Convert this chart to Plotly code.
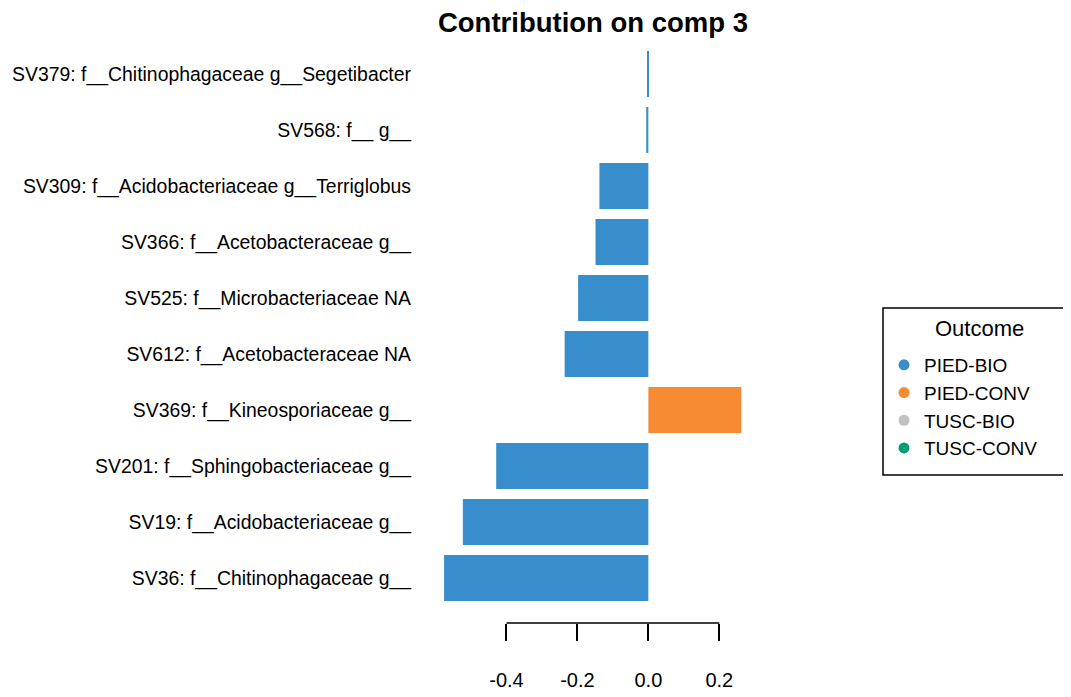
import plotly.graph_objects as go

# Data (bottom to top)
features = [
    "SV36: f__Chitinophagaceae g__",
    "SV19: f__Acidobacteriaceae g__",
    "SV201: f__Sphingobacteriaceae g__",
    "SV369: f__Kineosporiaceae g__",
    "SV612: f__Acetobacteraceae NA",
    "SV525: f__Microbacteriaceae NA",
    "SV366: f__Acetobacteraceae g__",
    "SV309: f__Acidobacteriaceae g__Terriglobus",
    "SV568: f__ g__",
    "SV379: f__Chitinophagaceae g__Segetibacter",
]
contrib = [-0.576, -0.523, -0.429, 0.262, -0.236, -0.198, -0.149, -0.138, -0.006, -0.003]
outcome = ["PIED-BIO", "PIED-BIO", "PIED-BIO", "PIED-CONV", "PIED-BIO",
           "PIED-BIO", "PIED-BIO", "PIED-BIO", "PIED-BIO", "PIED-BIO"]
groups = ["PIED-BIO", "PIED-CONV", "TUSC-BIO", "TUSC-CONV"]
group_colors = ["#388ECC", "#F68B33", "#C2C2C2", "#009E73"]
tick_vals = [-0.4, -0.2, 0.0, 0.2]
tick_text = ["-0.4", "-0.2", "0.0", "0.2"]

cmap = dict(zip(groups, group_colors))
ypos = list(range(len(features)))

# page has an 8px body margin -> figure is 8px smaller and offset
W, H = 1063, 689
L, R, T, B = 424, 318, 38, 74
PW, PH = W - L - R, H - T - B


def px(fx):  # figure pixel x -> paper x
    return (fx - L) / PW


def py(fy):  # figure pixel y -> paper y
    return (H - B - fy) / PH


fig = go.Figure()
fig.add_trace(go.Bar(
    x=contrib, y=ypos, orientation="h",
    marker=dict(color=[cmap[o] for o in outcome], line=dict(width=0)),
    width=0.82, showlegend=False, hoverinfo="x+text",
    text=features, textposition="none",
))
for g, c in zip(groups, group_colors):
    fig.add_trace(go.Scatter(
        x=[None], y=[None], mode="markers", name=g,
        marker=dict(color=c, size=11, symbol="circle"),
    ))

font = "Liberation Sans, Arial, Helvetica, sans-serif"
fig.update_layout(
    width=W, height=H,
    margin=dict(l=L, r=R, t=T, b=B, autoexpand=False),
    plot_bgcolor="white", paper_bgcolor="white",
    font=dict(family=font, size=19.4, color="black"),
    title=dict(text="<b>Contribution on comp 3</b>", x=585 / W, xanchor="center",
               yref="container", y=1 - 5 / H, yanchor="top",
               font=dict(size=27.5, family=font)),
    xaxis=dict(range=[-0.61, 0.295], tickvals=tick_vals, ticktext=tick_text,
               ticks="outside", ticklen=17, tickwidth=1.5, tickcolor="black",
               showgrid=False, zeroline=False, showline=False, automargin=False,
               ticklabelstandoff=22, tickfont=dict(size=20)),
    yaxis=dict(range=[-0.804, 9.5], tickvals=ypos, ticktext=features,
               ticks="", showgrid=False, zeroline=False, showline=False, automargin=False,
               ticklabelstandoff=20, tickfont=dict(size=19.4)),
    legend=dict(
        xref="container", yref="container",
        x=876 / W, y=1 - 338 / H, xanchor="left", yanchor="top",
        borderwidth=0, bgcolor="rgba(0,0,0,0)",
        font=dict(size=19), itemsizing="trace", tracegroupgap=0,
    ),
    annotations=[dict(text="Outcome", xref="paper", yref="paper", x=px(971), y=py(320),
                      xanchor="center", yanchor="middle", showarrow=False,
                      font=dict(size=22))],
    shapes=[
        dict(type="line", xref="x", yref="paper", x0=tick_vals[0], x1=tick_vals[-1],
             y0=0, y1=0, line=dict(color="black", width=1.5)),
        dict(type="rect", xref="paper", yref="paper", x0=px(875), x1=px(1062),
             y0=py(467), y1=py(300), line=dict(color="black", width=1.5),
             fillcolor="rgba(0,0,0,0)", layer="below"),
    ],
)

fig.write_html("out.html")
